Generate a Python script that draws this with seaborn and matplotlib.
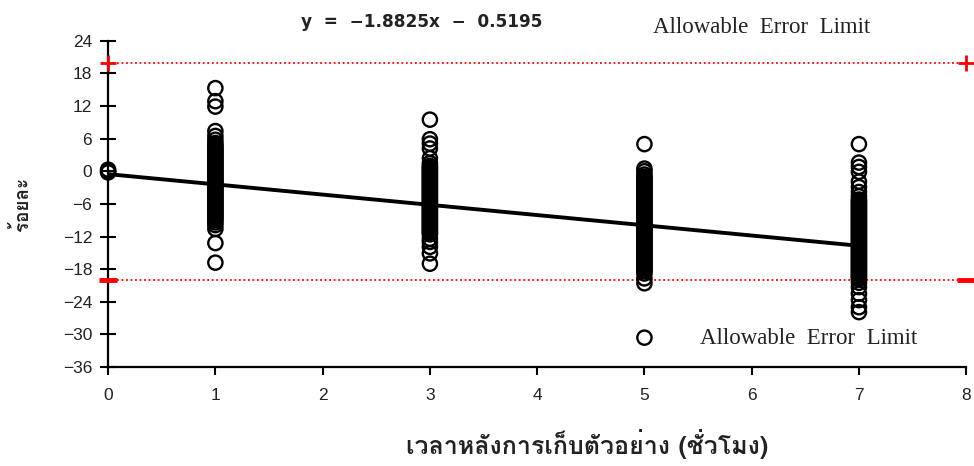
import matplotlib
matplotlib.use("Agg")
import matplotlib.pyplot as plt
from matplotlib import font_manager
import seaborn as sns
import pandas as pd
import numpy as np

# ---- data -------------------------------------------------------------
pct_0 = [0.3, 0.0, -0.2]

pct_1 = [15.3, 12.9, 11.9, 7.4, 6.5, 5.8, 5.2,
         4.8, 4.5, 4.2, 3.9, 3.6, 3.3, 3.0, 2.7, 2.4, 2.1, 1.8, 1.5, 1.2,
         0.9, 0.6, 0.3, 0.0, -0.3, -0.6, -0.9, -1.2, -1.5, -1.8, -2.1, -2.4,
         -2.7, -3.0, -3.3, -3.6, -3.9, -4.2, -4.5, -4.8, -5.1, -5.4, -5.7,
         -6.0, -6.3, -6.6, -6.9, -7.2, -7.5, -7.8, -8.1, -8.4, -8.7, -9.0,
         -9.4, -9.9, -10.6, -13.2, -16.8]
pct_3 = [9.5, 5.9, 5.1, 4.2, 2.4, 1.5,
         1.0, 0.7, 0.4, 0.1, -0.2, -0.5, -0.8, -1.1, -1.4, -1.7, -2.0, -2.3,
         -2.6, -2.9, -3.2, -3.5, -3.8, -4.1, -4.4, -4.7, -5.0, -5.3, -5.6,
         -5.9, -6.2, -6.5, -6.8, -7.1, -7.4, -7.7, -8.0, -8.3, -8.6, -8.9,
         -9.2, -9.5, -9.8, -10.1, -10.4, -10.7, -11.0, -11.3, -11.6,
         -12.4, -13.0, -13.9, -15.1, -17.0]
pct_5 = [5.0, 0.5, 0.0, -0.6,
         -1.0, -1.3, -1.6, -1.9, -2.2, -2.5, -2.8, -3.1, -3.4, -3.7, -4.0,
         -4.3, -4.6, -4.9, -5.2, -5.5, -5.8, -6.1, -6.4, -6.7, -7.0, -7.3,
         -7.6, -7.9, -8.2, -8.5, -8.8, -9.1, -9.4, -9.7, -10.0, -10.3, -10.6,
         -10.9, -11.2, -11.5, -11.8, -12.1, -12.4, -12.7, -13.0, -13.3, -13.6,
         -13.9, -14.2, -14.5, -14.8, -15.1, -15.4, -15.7, -16.0, -16.3, -16.6,
         -16.9, -17.2, -17.5, -17.8, -18.1, -18.4,
         -18.8, -19.7, -20.6, -30.6]
pct_7 = [5.0, 1.6, 0.8, -0.1, -1.9, -2.9, -3.8, -4.6,
         -5.2, -5.5, -5.8, -6.1, -6.4, -6.7, -7.0, -7.3, -7.6, -7.9, -8.2,
         -8.5, -8.8, -9.1, -9.4, -9.7, -10.0, -10.3, -10.6, -10.9, -11.2,
         -11.5, -11.8, -12.1, -12.4, -12.7, -13.0, -13.3, -13.6, -13.9, -14.2,
         -14.5, -14.8, -15.1, -15.4, -15.7, -16.0, -16.3, -16.6, -16.9, -17.2,
         -17.5, -17.8, -18.1, -18.4, -18.7, -19.0, -19.3, -19.6, -19.9,
         -20.5, -21.3, -22.5, -23.7, -25.0, -25.9]

sample_hours = [0, 1, 3, 5, 7]
slope = -1.8825
intercept = -0.5195
error_limit = 20
x_ticks = [0, 1, 2, 3, 4, 5, 6, 7, 8]
y_ticks = [-36, -30, -24, -18, -12, -6, 0, 6, 12, 18, 24]

x_label = "เวลาหลังการเก็บตัวอย่าง (ชั่วโมง)"
y_label = "ร้อยละ"
equation = "y  =  \u22121.8825x  \u2212  0.5195"
limit_text = "Allowable  Error  Limit"

groups = [pct_0, pct_1, pct_3, pct_5, pct_7]
df = pd.DataFrame({
    "hours": np.concatenate([[h] * len(g) for h, g in zip(sample_hours, groups)]),
    "pct": np.concatenate(groups),
})


# ---- fonts --------------------------------------------------------------
def thai_family():
    try:
        from fontTools.ttLib import TTFont
    except Exception:
        return None
    for f in font_manager.fontManager.ttflist:
        try:
            tt = TTFont(f.fname, fontNumber=0, lazy=True)
            cmap = tt.getBestCmap()
            if cmap and 0x0E27 in cmap and 0x0E48 in cmap:
                return f.name
        except Exception:
            continue
    return None


sns.set_theme(style="white")
thai = thai_family()
base = ["Liberation Sans", "DejaVu Sans"]
thai_fams = ([thai] if thai else []) + base
plt.rcParams["font.family"] = base

# ---- figure -------------------------------------------------------------
fig = plt.figure(figsize=(9.74, 4.66), dpi=100)
ax = fig.add_axes([0.111, 0.2124, 0.881, 0.700])

sns.scatterplot(data=df, x="hours", y="pct", ax=ax, marker="o", s=105,
                facecolor="none", edgecolor="black", linewidth=1.7,
                clip_on=False, zorder=3, legend=False)

# fitted trend line
xs = np.array([0, 7])
sns.lineplot(x=xs, y=slope * xs + intercept, ax=ax, color="black",
             linewidth=2.8, zorder=4)

# allowable error limits
for lim in (error_limit, -error_limit):
    ax.plot([0, 8], [lim, lim], color="red", linestyle=(0, (1, 1.5)),
            linewidth=1.3, zorder=2, clip_on=False)
ax.plot([0, 8], [error_limit] * 2, linestyle="none", marker="+",
        markersize=12, markeredgewidth=2, color="red", clip_on=False, zorder=5)
ax.plot([0, 8], [-error_limit] * 2, linestyle="none", marker="_",
        markersize=13, markeredgewidth=3.5, color="red", clip_on=False, zorder=5)

ax.set_xlim(0, 8)
ax.set_ylim(-36, 24)
ax.set_xticks(x_ticks)
ax.set_yticks(y_ticks)
ax.set_xticklabels([str(t) for t in x_ticks],
                   family=["Liberation Sans Narrow", "Liberation Sans"],
                   fontsize=12.5, color="#222222")
ax.set_yticklabels([f"{t}".replace("-", "\u2212") for t in y_ticks],
                   fontsize=12.5, color="#222222")

for side in ("top", "right"):
    ax.spines[side].set_visible(False)
for side in ("left", "bottom"):
    ax.spines[side].set_color("black")
    ax.spines[side].set_linewidth(1.6)

ax.tick_params(axis="y", direction="inout", length=11, width=1.5,
               color="black", pad=6, left=True)
ax.tick_params(axis="x", direction="out", length=6, width=1.5,
               color="black", pad=9, bottom=True)

ax.set_xlabel(x_label, family=thai_fams, fontsize=18, fontweight="bold",
              labelpad=19, color="#222222")
ax.xaxis.label.set_x(0.558)
ax.set_ylabel(y_label, family=thai_fams, fontsize=13.5, fontweight="bold",
              labelpad=22, color="#222222")

ax.text(2.92, 27.5, equation, ha="center", va="center", fontsize=12.2,
        fontweight="bold", family=["DejaVu Sans"], color="#222222",
        clip_on=False)
ax.text(6.09, 26.4, limit_text, ha="center", va="center", fontsize=16.5,
        family=["Liberation Serif", "DejaVu Serif"], color="#222222",
        clip_on=False)
ax.text(6.53, -30.7, limit_text, ha="center", va="center", fontsize=16.5,
        family=["Liberation Serif", "DejaVu Serif"], color="#222222",
        clip_on=False)

ax.grid(False)
fig.savefig("out.png", dpi=100, facecolor="white")
